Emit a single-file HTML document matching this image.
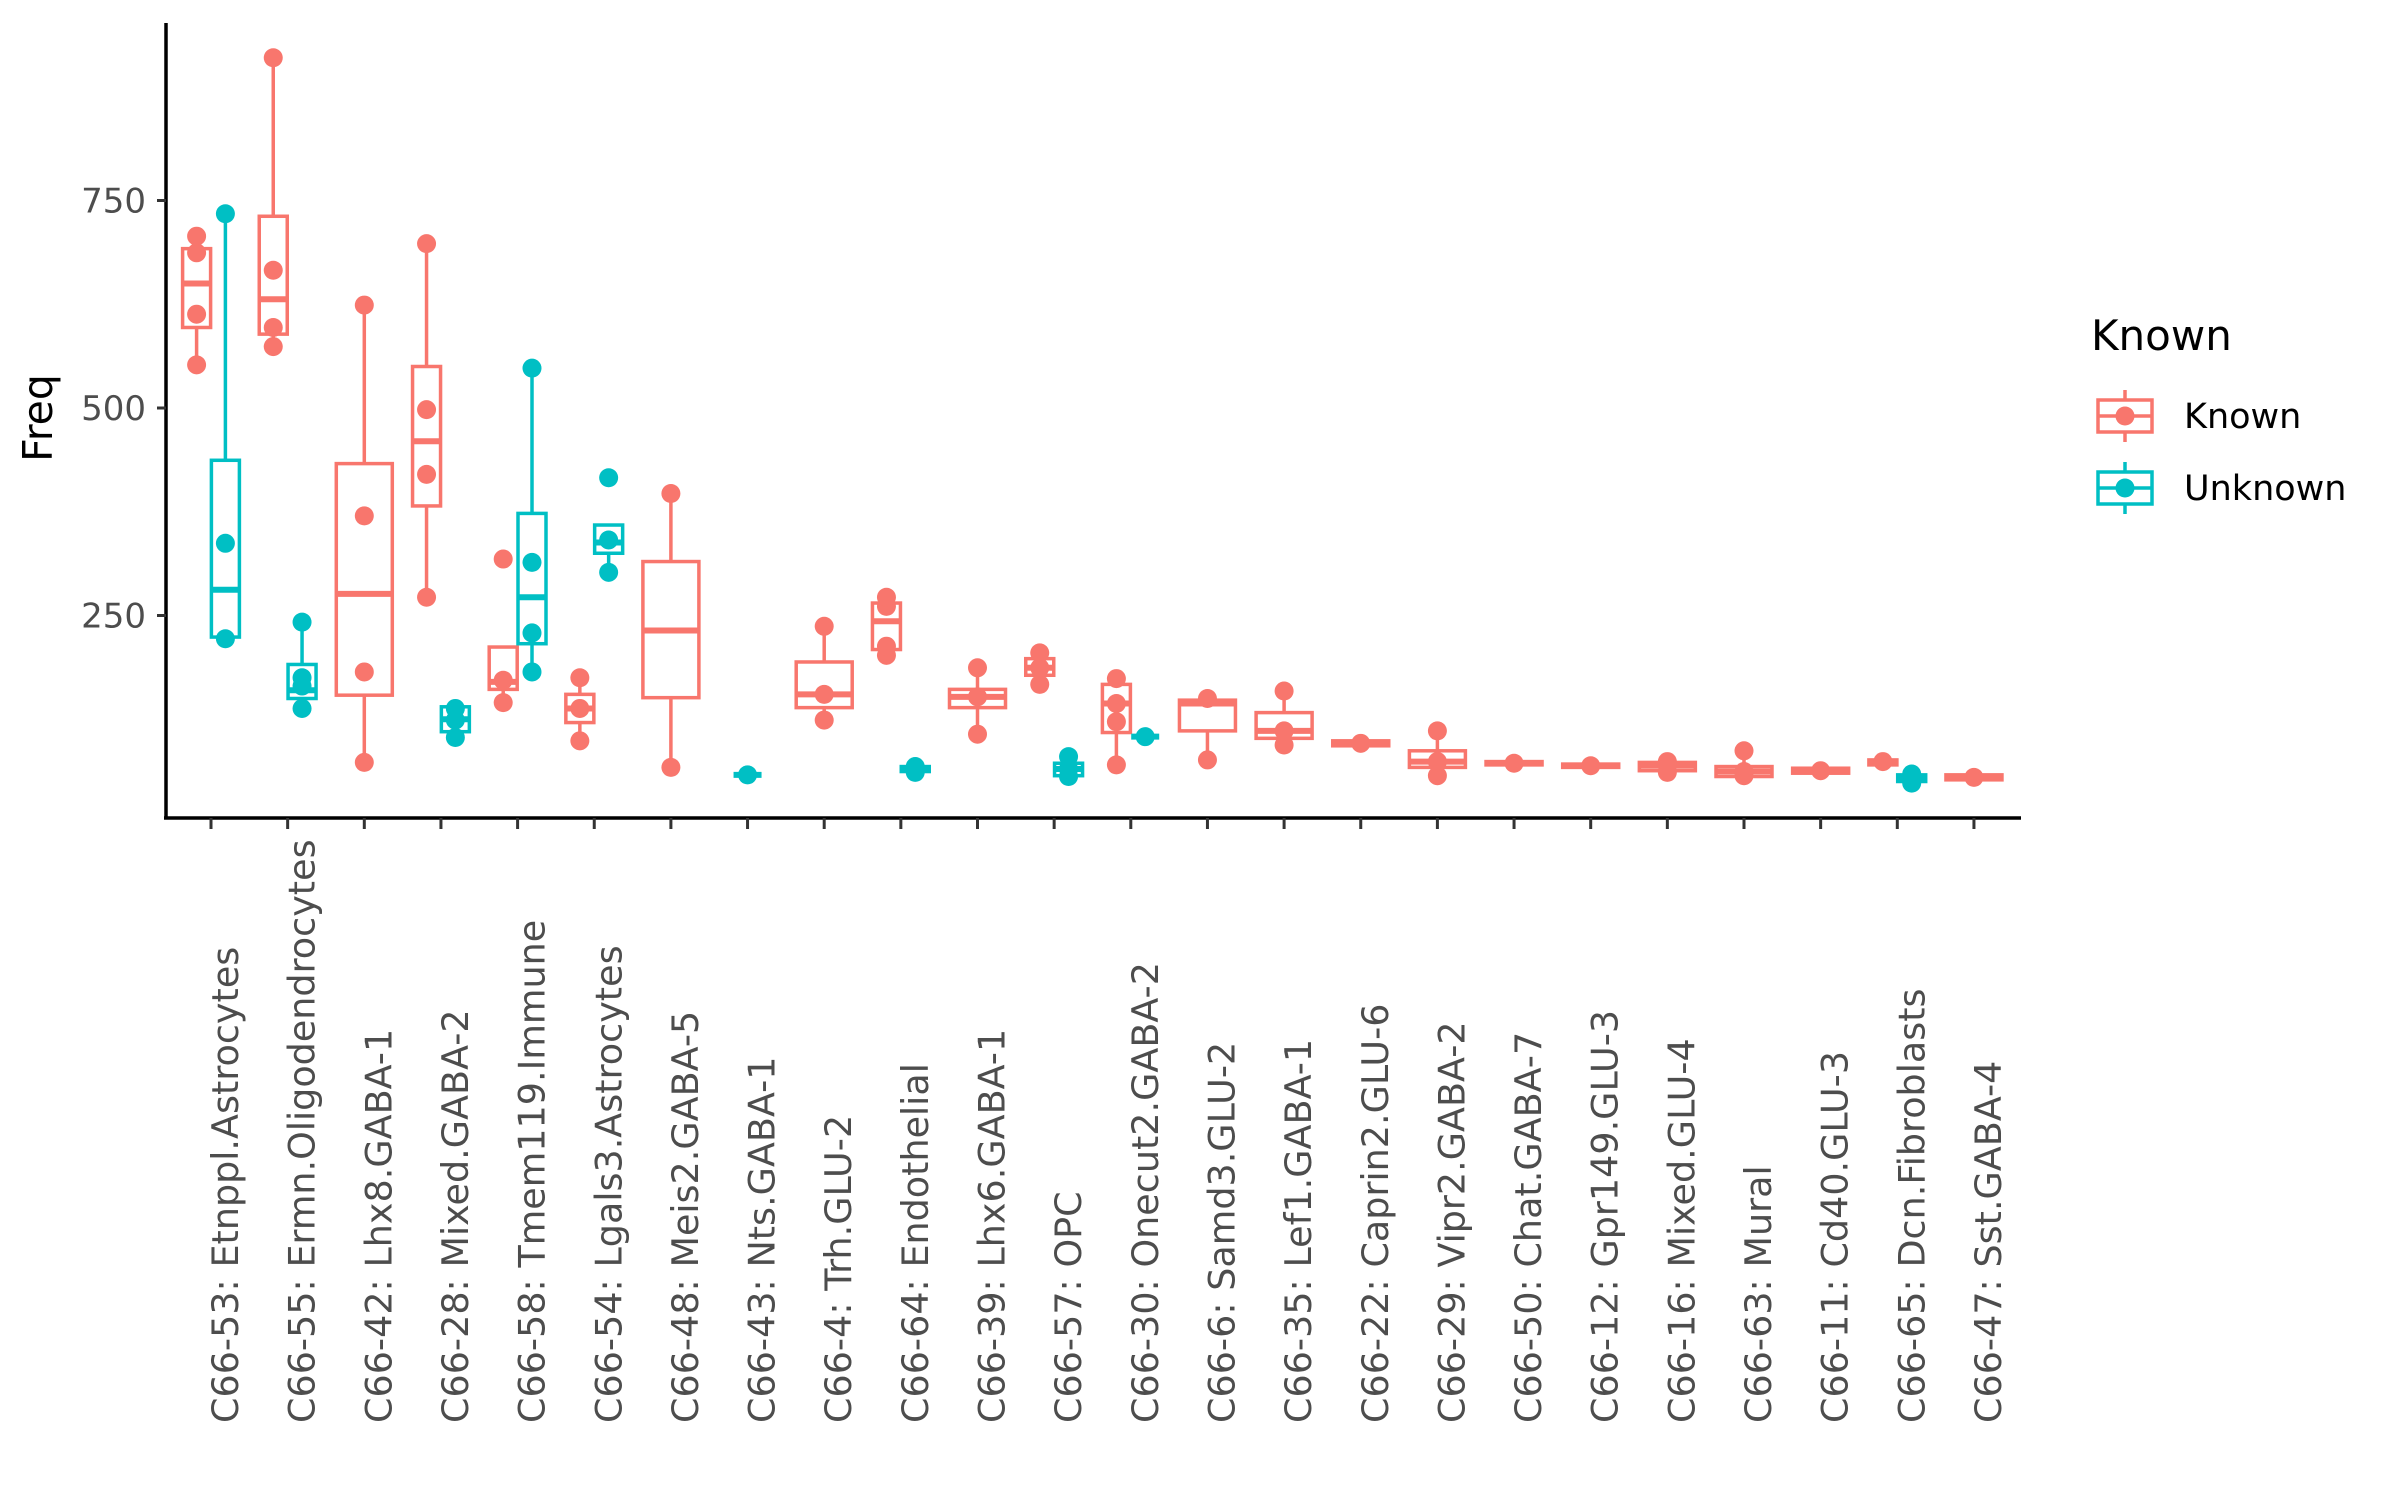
<!DOCTYPE html>
<html><head><meta charset="utf-8"><style>
html,body{margin:0;padding:0;background:#fff;}
svg{display:block;font-family:"DejaVu Sans","Liberation Sans",sans-serif;}
</style></head><body>
<svg id="chart" width="2400" height="1500" viewBox="0 0 2400 1500"></svg>
<script>
const categories=["C66-53: Etnppl.Astrocytes","C66-55: Ermn.Oligodendrocytes","C66-42: Lhx8.GABA-1","C66-28: Mixed.GABA-2","C66-58: Tmem119.Immune","C66-54: Lgals3.Astrocytes","C66-48: Meis2.GABA-5","C66-43: Nts.GABA-1","C66-4: Trh.GLU-2","C66-64: Endothelial","C66-39: Lhx6.GABA-1","C66-57: OPC","C66-30: Onecut2.GABA-2","C66-6: Samd3.GLU-2","C66-35: Lef1.GABA-1","C66-22: Caprin2.GLU-6","C66-29: Vipr2.GABA-2","C66-50: Chat.GABA-7","C66-12: Gpr149.GLU-3","C66-16: Mixed.GLU-4","C66-63: Mural","C66-11: Cd40.GLU-3","C66-65: Dcn.Fibroblasts","C66-47: Sst.GABA-4"];
// [lo, q1, median, q3, hi] per category; null = group absent
const knownStats=[[552,597,650,692,707],[574,589,631,731,922],[73,154,276,433,624],[272,382,460,550,698],[145,161,170,212,212],[99,121,138,155,175],[67,151,232,315,397],null,[124,139,155,194,237],[202,209,243,265,272],[107,139,152,161,187],[167,178,187,198,205],[70,109,144,167,174],[76,111,144,148,150],[94,102,111,133,159],[96,93,96,99,96],[57,67,74,87,111],[72,70,72,74,72],[69,67,69,71,69],[61,63,69,73,74],[56,56,62,68,87],[63,60,63,66,63],[74,70,74,76,74],[55,52,55,58,55]];
const knownPoints=[[552,613,687,707],[574,597,666,922],[73,182,370,624],[272,420,498,698],[145,172,318],[99,138,175],[67,397],[],[124,155,237],[202,213,261,272],[107,152,187],[167,187,205],[70,122,144,174],[76,150],[94,111,159],[96],[57,74,111],[72],[69],[61,69,74],[57,62,87],[63],[74],[55]];
const unknownStats=[[222,224,281,437,734],[138,150,160,191,242],null,[103,110,125,140,140],[182,216,272,373,548],[302,325,338,359,359],null,[58,58,58,58,58],null,[61,62,64,68,68],null,[56,57,65,72,80],[104,104,104,104,104],null,null,null,null,null,null,null,null,null,[48,50,54,58,59],null];
const unknownPoints=[[222,337,734],[138,165,175,242],[],[103,124,138],[182,229,314,548],[302,341,416],[],[58],[],[61,68],[],[56,65,80],[104],[],[],[],[],[],[],[],[],[],[48,54,59],[]];
const yTicks=[250,500,750];

const NS="http://www.w3.org/2000/svg";
const svg=document.getElementById('chart');
const X0=211, DX=76.65, Y250=615.5, PXU=207.5/250;
const xPos=i=>X0+i*DX;
const yPos=v=>Y250-(v-250)*PXU;
const COL={known:"#F8766D",unknown:"#00BFC4"};
function mk(tag,attrs,parent){const e=document.createElementNS(NS,tag);for(const k in attrs)e.setAttribute(k,attrs[k]);(parent||svg).appendChild(e);return e;}

const axes=mk('g',{});


mk('line',{x1:166,y1:23,x2:166,y2:819,stroke:'#000','stroke-width':3.5},axes);
mk('line',{x1:164,y1:818,x2:2021,y2:818,stroke:'#000','stroke-width':3.5},axes);
yTicks.forEach(t=>{
  const y=yPos(t);
  const tk=mk('line',{x1:157,y1:y,x2:166,y2:y,stroke:'#333','stroke-width':3},axes);
  
  
  const lb=mk('text',{x:146,y:y+12,'text-anchor':'end','font-size':34,fill:'#4d4d4d'},axes);
  lb.textContent=t;
  
  
});
const yt=mk('text',{x:0,y:0,transform:'translate(52,418) rotate(-90)','text-anchor':'middle','font-size':41,fill:'#000'});
yt.textContent='Freq';



categories.forEach((c,i)=>{
  const x=xPos(i);
  const tk=mk('line',{x1:x,y1:818,x2:x,y2:829,stroke:'#333','stroke-width':3},axes);
  
  
  const lb=mk('text',{x:0,y:0,transform:`translate(${x+27},1423) rotate(-90)`,'text-anchor':'start','font-size':36.5,fill:'#4d4d4d'},axes);
  lb.textContent=c;
  
  
});

function drawBox(cx,w,s,pts,col,name){
  const g=mk('g',{});
  
  
  const [lo,q1,md,q3,hi]=s;
  mk('line',{x1:cx,y1:yPos(hi),x2:cx,y2:yPos(q3),stroke:col,'stroke-width':3.5},g);
  mk('line',{x1:cx,y1:yPos(q1),x2:cx,y2:yPos(lo),stroke:col,'stroke-width':3.5},g);
  mk('rect',{x:cx-w/2,y:yPos(q3),width:w,height:Math.max(0,yPos(q1)-yPos(q3)),fill:'#fff',stroke:col,'stroke-width':3.5},g);
  mk('line',{x1:cx-w/2,y1:yPos(md),x2:cx+w/2,y2:yPos(md),stroke:col,'stroke-width':6},g);
  pts.forEach(p=>{
    const d=mk('circle',{cx:cx,cy:yPos(p),r:9.5,fill:col},g);
    
    
  });
}
categories.forEach((c,i)=>{
  const x=xPos(i);
  const k=knownStats[i], u=unknownStats[i];
  if(k&&u){
    drawBox(x-14.4,28,k,knownPoints[i],COL.known,'box-known-'+i);
    drawBox(x+14.4,28,u,unknownPoints[i],COL.unknown,'box-unknown-'+i);
  }else if(k){
    drawBox(x,56,k,knownPoints[i],COL.known,'box-known-'+i);
  }else if(u){
    drawBox(x,28,u,unknownPoints[i],COL.unknown,'box-unknown-'+i);
  }
});

const lg=mk('g',{});


const lt=mk('text',{x:2091,y:350,'font-size':42,fill:'#000'},lg);
lt.textContent='Known';


[['Known',COL.known,416],['Unknown',COL.unknown,488]].forEach(([n,col,y])=>{
  const e=mk('g',{},lg);
  
  
  mk('line',{x1:2125,y1:y-26,x2:2125,y2:y+26,stroke:col,'stroke-width':3.5},e);
  mk('rect',{x:2098,y:y-16,width:54,height:32,fill:'#fff',stroke:col,'stroke-width':3.5},e);
  mk('line',{x1:2098,y1:y,x2:2152,y2:y,stroke:col,'stroke-width':3.5},e);
  mk('circle',{cx:2125,cy:y,r:9.5,fill:col},e);
  const t=mk('text',{x:2184,y:y+12,'font-size':35,fill:'#000'},e);
  t.textContent=n;
});
</script>
</body></html>
